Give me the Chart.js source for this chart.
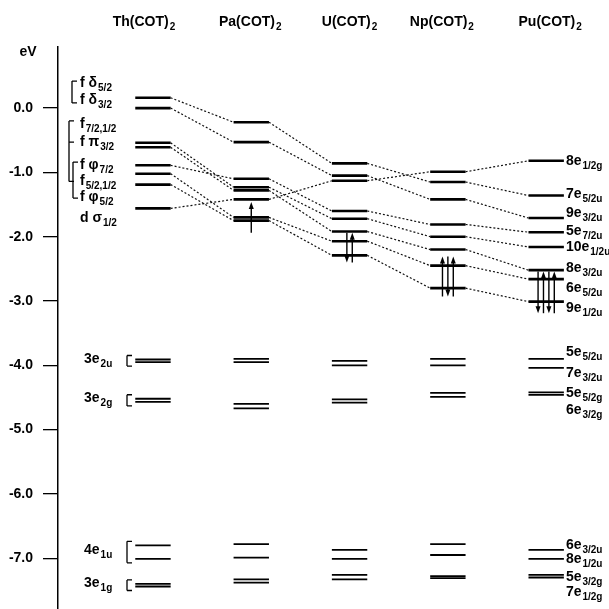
<!DOCTYPE html>
<html>
<head>
<meta charset="utf-8">
<script src="https://cdn.jsdelivr.net/npm/chart.js@4.4.1/dist/chart.umd.min.js"></script>
<style>
  body { margin: 0; background: #fff; }
</style>
</head>
<body>
<canvas id="levels" width="609" height="609"></canvas>
<script>
const compounds = ['Th', 'Pa', 'U', 'Np', 'Pu'];
const tickValues = [0, -1, -2, -3, -4, -5, -6, -7];
const tickLabels = ['0.0', '-1.0', '-2.0', '-3.0', '-4.0', '-5.0', '-6.0', '-7.0'];

// metal f/d levels (eV), top to bottom
const thLevels = [0.16, 0.0, -0.54, -0.61, -0.89, -1.02, -1.19, -1.56];
const paLevels = [-0.22, -0.53, -1.10, -1.23, -1.28, -1.42, -1.70, -1.75];
const uLevels = [-0.86, -1.05, -1.13, -1.60, -1.72, -1.92, -2.07, -2.29];
const npLevels = [-0.99, -1.15, -1.42, -1.81, -2.00, -2.20, -2.45, -2.80];
const puLevels = [-0.82, -1.36, -1.71, -1.93, -2.16, -2.52, -2.66, -3.01];

// ligand levels (eV)
const thLigand = [-3.91, -3.95, -4.52, -4.57, -6.80, -7.01, -7.40, -7.44];
const paLigand = [-3.90, -3.95, -4.60, -4.67, -6.78, -6.99, -7.33, -7.38];
const uLigand = [-3.93, -4.00, -4.53, -4.58, -6.87, -7.01, -7.26, -7.33];
const npLigand = [-3.90, -4.00, -4.43, -4.49, -6.78, -6.95, -7.28, -7.31];
const puLigand = [-3.90, -4.04, -4.42, -4.46, -6.87, -7.01, -7.26, -7.30];

// dotted correlation lines: [level in left column, level in right column]
const thToPa = [[0, 0], [1, 1], [2, 3], [3, 4], [4, 2], [5, 6], [6, 7], [7, 5]];
const paToU = [[0, 0], [1, 1], [2, 3], [3, 4], [4, 5], [5, 2], [6, 6], [7, 7]];
const uToNp = [[0, 1], [1, 2], [2, 0], [3, 3], [4, 4], [5, 5], [6, 6], [7, 7]];
const npToPu = [[0, 0], [1, 1], [2, 2], [3, 3], [4, 4], [5, 5], [6, 6], [7, 7]];

// f electrons per column (1 = up, -1 = down) and the energy span of the arrows
const spins = [[], [1], [-1, 1], [1, -1, 1], [-1, 1, -1, 1]];
const spinRange = [null, [-1.46, -1.94], [-1.94, -2.40], [-2.31, -2.93], [-2.54, -3.19]];

// level names
const thNames = [['f δ', '5/2'], ['f δ', '3/2'], ['f', '7/2,1/2'], ['f π', '3/2'], ['f φ', '7/2'], ['f', '5/2,1/2'], ['f φ', '5/2'], ['d σ', '1/2']];
const thNameE = [0.39, 0.12, -0.25, -0.53, -0.89, -1.14, -1.38, -1.71];
const ligandNames = [['3e', '2u'], ['3e', '2g'], ['4e', '1u'], ['3e', '1g']];
const puNames = [['8e', '1/2g'], ['7e', '5/2u'], ['9e', '3/2u'], ['5e', '7/2u'], ['10e', '1/2u'], ['8e', '3/2u'], ['6e', '5/2u'], ['9e', '1/2u'],
  ['5e', '5/2u'], ['7e', '3/2u'], ['5e', '5/2g'], ['6e', '3/2g'], ['6e', '3/2u'], ['8e', '1/2u'], ['5e', '3/2g'], ['7e', '1/2g']];
const puNameE = [-0.82, -1.34, -1.63, -1.91, -2.16, -2.49, -2.80, -3.11, -3.79, -4.12, -4.43, -4.70, -6.80, -7.01, -7.29, -7.53];

const upper = [thLevels, paLevels, uLevels, npLevels, puLevels];
const ligand = [thLigand, paLigand, uLigand, npLigand, puLigand];
const links = [thToPa, paToU, uToNp, npToPu];
const hw = 0.18;
const FONT = '"Liberation Sans", Arial, sans-serif';

const datasets = [];
upper.forEach((levels, c) => levels.forEach(e => {
    datasets.push({ data: [{ x: c - hw, y: e }, { x: c + hw, y: e }], borderColor: '#000', borderWidth: 2.6 });
}));
ligand.forEach((levels, c) => levels.forEach(e => {
    datasets.push({ data: [{ x: c - hw, y: e }, { x: c + hw, y: e }], borderColor: '#000', borderWidth: 1.8 });
}));
links.forEach((pairs, c) => pairs.forEach(([a, b]) => {
    datasets.push({
        data: [{ x: c + hw, y: upper[c][a] }, { x: c + 1 - hw, y: upper[c + 1][b] }],
        borderColor: '#111', borderWidth: 1.2, borderDash: [2, 2]
    });
}));
datasets.forEach(d => { d.showLine = true; d.pointRadius = 0; });

function drawSub(ctx, x, y, main, sub, align) {
    ctx.font = 'bold 14px ' + FONT;
    const w1 = ctx.measureText(main).width;
    ctx.font = 'bold 10px ' + FONT;
    const w2 = ctx.measureText(sub).width;
    const x0 = align === 'center' ? x - (w1 + w2 + 1) / 2 : x;
    ctx.textAlign = 'left';
    ctx.textBaseline = 'middle';
    ctx.font = 'bold 14px ' + FONT;
    ctx.fillText(main, x0, y);
    ctx.font = 'bold 10px ' + FONT;
    ctx.fillText(sub, x0 + w1 + 1, y + 5);
}

function bracket(ctx, x, y1, y2, ticks) {
    ctx.beginPath();
    ctx.moveTo(x, y1);
    ctx.lineTo(x, y2);
    ticks.forEach(t => { ctx.moveTo(x, t); ctx.lineTo(x + 5, t); });
    ctx.stroke();
}

function arrow(ctx, x, yFrom, yTo) {
    const dir = yTo < yFrom ? -1 : 1;
    ctx.beginPath();
    ctx.moveTo(x, yFrom);
    ctx.lineTo(x, yTo - dir * 6);
    ctx.stroke();
    ctx.beginPath();
    ctx.moveTo(x, yTo);
    ctx.lineTo(x - 2.5, yTo - dir * 7);
    ctx.lineTo(x + 2.5, yTo - dir * 7);
    ctx.closePath();
    ctx.fill();
}

const annotations = {
    id: 'annotations',
    afterDatasetsDraw(chart) {
        const ctx = chart.ctx;
        const xs = chart.scales.x, ys = chart.scales.y;
        const Y = e => ys.getPixelForValue(e);
        ctx.save();
        ctx.fillStyle = '#000';
        ctx.strokeStyle = '#000';

        // column titles
        const titleShift = [-9, -1, 0, -6, 4];
        compounds.forEach((name, c) => {
            drawSub(ctx, xs.getPixelForValue(c) + titleShift[c], 22, name + '(COT)', '2', 'center');
        });
        ctx.font = 'bold 14px ' + FONT;
        ctx.textAlign = 'center';
        ctx.fillText('eV', 28, 52);

        // Th level names and brackets
        thNames.forEach(([m, s], i) => drawSub(ctx, 80, Y(thNameE[i]), m, s));
        ctx.lineWidth = 1.3;
        bracket(ctx, 72, Y(0.42), Y(0.08), [Y(0.42), Y(0.08)]);
        bracket(ctx, 69, Y(-0.20), Y(-1.14), [Y(-0.20), Y(-0.53), Y(-1.14)]);
        bracket(ctx, 73, Y(-0.84), Y(-1.40), [Y(-0.84), Y(-1.40)]);

        // ligand names with brackets
        ligandNames.forEach(([m, s], i) => {
            const top = Y(thLigand[2 * i]), bot = Y(thLigand[2 * i + 1]);
            drawSub(ctx, 84, (top + bot) / 2 - 2, m, s);
            bracket(ctx, 127, top - 4, bot + 4, [top - 4, bot + 4]);
        });

        // Pu level names
        puNames.forEach(([m, s], i) => drawSub(ctx, xs.getPixelForValue(4 + hw) + 2, Y(puNameE[i]), m, s));

        // electron arrows
        ctx.lineWidth = 1.4;
        spins.forEach((list, c) => {
            list.forEach((s, k) => {
                const x = xs.getPixelForValue(c + (k - (list.length - 1) / 2) * 0.055);
                const [eTop, eBot] = spinRange[c];
                if (s > 0) arrow(ctx, x, Y(eBot), Y(eTop));
                else arrow(ctx, x, Y(eTop), Y(eBot));
            });
        });
        ctx.restore();
    }
};

new Chart(document.getElementById('levels'), {
    type: 'scatter',
    data: { datasets: datasets },
    options: {
        responsive: false,
        animation: false,
        devicePixelRatio: 1,
        layout: { padding: { top: 47, left: 0, right: 0, bottom: 0 } },
        plugins: { legend: { display: false }, tooltip: { enabled: false } },
        scales: {
            x: { type: 'linear', min: -0.966, max: 4.639, display: false },
            y: {
                type: 'linear',
                min: -7.79,
                max: 0.95,
                afterFit: axis => {
                    axis.width = 58;
                    axis.paddingTop = 0;
                    axis.paddingBottom = 0;
                },
                afterBuildTicks: axis => { axis.ticks = tickValues.map(v => ({ value: v })); },
                ticks: {
                    color: '#000',
                    padding: 10,
                    font: { family: FONT, size: 14, weight: 'bold' },
                    callback: (v, i) => tickLabels[i]
                },
                grid: { drawOnChartArea: false, drawTicks: true, tickLength: 15, color: '#000', lineWidth: 1.3 },
                border: { display: true, color: '#000', width: 1.5 }
            }
        }
    },
    plugins: [annotations]
});
</script>
</body>
</html>
